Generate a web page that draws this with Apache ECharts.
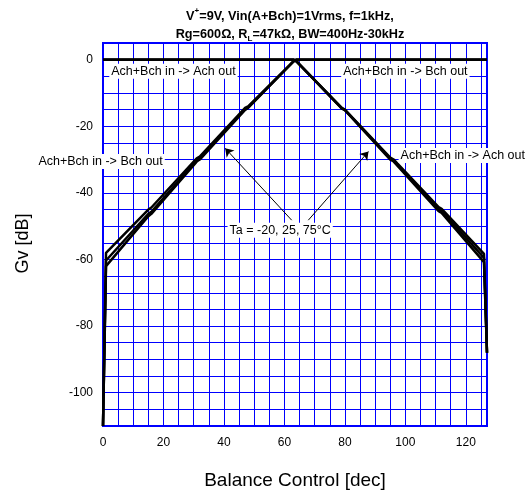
<!DOCTYPE html>
<html><head><meta charset="utf-8">
<script src="https://cdn.jsdelivr.net/npm/echarts@6/dist/echarts.min.js"></script>
<style>html,body{margin:0;padding:0;background:#fff}#c{width:529px;height:495px}</style>
</head><body><div id="c"></div>
<script>
// ---- data ----
const xTickLabels = [0, 20, 40, 60, 80, 100, 120];
const yTickLabels = [0, -20, -40, -60, -80, -100];
// Ach+Bch in -> Bch out (rising), three temperatures
const bchX  = [0, 1, 15, 16, 31, 32, 47, 48, 63, 64, 127];
const bchT1 = [-110, -58, -45, -44.4, -29.6, -29.1, -14.5, -14, -0.5, 0, 0];
const bchT2 = [-110, -60.3, -46.3, -45.7, -30.2, -29.6, -14.8, -14.3, -0.5, 0, 0];
const bchT3 = [-110, -62, -47, -46.3, -30.6, -30, -15.1, -14.5, -0.5, 0, 0];
// Ach+Bch in -> Ach out (falling), three temperatures
const achX  = [0, 63, 64, 79, 80, 95, 96, 111, 112, 126, 127];
const achT1 = [0, 0, -0.5, -14.5, -15, -29.4, -29.9, -44.3, -44.8, -58.3, -88];
const achT2 = [0, 0, -0.5, -14.6, -15.1, -29.7, -30.2, -44.9, -45.4, -59.5, -88];
const achT3 = [0, 0, -0.5, -14.7, -15.2, -30, -30.5, -45.5, -46, -60.8, -88];
// annotations [text, x, y]
const notes = [
  ['Ach+Bch in -> Ach out', 23.3, -3.5],
  ['Ach+Bch in -> Bch out', 100, -3.5],
  ['Ach+Bch in -> Bch out', -0.8, -30.6],
  ['Ach+Bch in -> Ach out', 119, -28.8],
  ['Ta = -20, 25, 75°C', 58.6, -51.2]
];
const arrows = [
  [[62.4, -48.2], [40.4, -26.6]],
  [[67.9, -48.2], [87.8, -27.6]]
];

const FONT = '"Liberation Sans", Arial, sans-serif';
const BLUE = '#0000ff';
const chart = echarts.init(document.getElementById('c'), null, {renderer: 'canvas'});
const pair = (xs, ys) => xs.map((x, i) => [x, ys[i]]);
const lineSeries = (xs, ys) => ({
  type: 'line', data: pair(xs, ys), showSymbol: false, symbol: 'none',
  lineStyle: {color: '#000', width: 2.5}, silent: true, animation: false, z: 3
});

chart.setOption({
  animation: false,
  title: {
    text: 'V{sup|+}=9V, Vin(A+Bch)=1Vrms, f=1kHz,\nRg=600Ω, R{sub|L}=47kΩ, BW=400Hz-30kHz',
    left: 290, top: 7, textAlign: 'center', padding: 0,
    textStyle: {
      fontFamily: FONT, fontSize: 12.7, fontWeight: 'bold', color: '#000', lineHeight: 18,
      rich: {
        sup: {fontFamily: FONT, fontSize: 8, fontWeight: 'bold', color: '#000', verticalAlign: 'top', lineHeight: 18, padding: [0, 0, 6, 0]},
        sub: {fontFamily: FONT, fontSize: 8, fontWeight: 'bold', color: '#000', verticalAlign: 'bottom', lineHeight: 18, padding: [6, 0, 0, 0]}
      }
    }
  },
  grid: {left: 103, right: 42, top: 43, bottom: 67, show: true, borderColor: BLUE, borderWidth: 2, containLabel: false},
  xAxis: {
    type: 'value', min: 0, max: 127, interval: 5,
    name: 'Balance Control [dec]', nameLocation: 'middle', nameGap: 45,
    nameTextStyle: {fontFamily: FONT, fontSize: 19, color: '#000'},
    axisLine: {lineStyle: {color: BLUE, width: 2}},
    axisTick: {show: false},
    axisLabel: {fontFamily: FONT, fontSize: 12, color: '#000', margin: 11, showMaxLabel: false,
      formatter: v => xTickLabels.includes(v) ? String(v) : ''},
    splitLine: {show: true, lineStyle: {color: BLUE, width: 1}}
  },
  yAxis: {
    type: 'value', min: -110, max: 5, interval: 5,
    name: 'Gv [dB]', nameLocation: 'middle', nameGap: 71,
    nameTextStyle: {fontFamily: FONT, fontSize: 18, color: '#000', padding: [0, 18, 0, 0]},
    axisLine: {lineStyle: {color: BLUE, width: 2}},
    axisTick: {show: false},
    axisLabel: {fontFamily: FONT, fontSize: 12, color: '#000', margin: 10,
      formatter: v => yTickLabels.includes(v) ? String(v) : ''},
    splitLine: {show: true, lineStyle: {color: BLUE, width: 1}}
  },
  series: [
    lineSeries(bchX, bchT1), lineSeries(bchX, bchT2), lineSeries(bchX, bchT3),
    lineSeries(achX, achT1), lineSeries(achX, achT2), lineSeries(achX, achT3),
    {
      type: 'line', data: [], silent: true, animation: false, z: 6,
      markLine: {
        silent: true, animation: false, symbol: ['none', 'arrow'], symbolSize: 8,
        label: {show: false},
        lineStyle: {color: '#000', width: 1, type: 'solid'},
        emphasis: {disabled: true},
        data: arrows.map(a => [{coord: a[0]}, {coord: a[1]}])
      }
    }
  ]
});

const g = notes.map(n => {
  const p = chart.convertToPixel({gridIndex: 0}, [n[1], n[2]]);
  return {
    type: 'text', x: p[0], y: p[1], z: 10, silent: true,
    style: {text: n[0], font: '12.5px ' + FONT, fill: '#000', align: 'center', verticalAlign: 'middle',
      backgroundColor: '#fff', padding: [1, 2, 1, 2]}
  };
});
chart.setOption({graphic: g});
</script></body></html>
